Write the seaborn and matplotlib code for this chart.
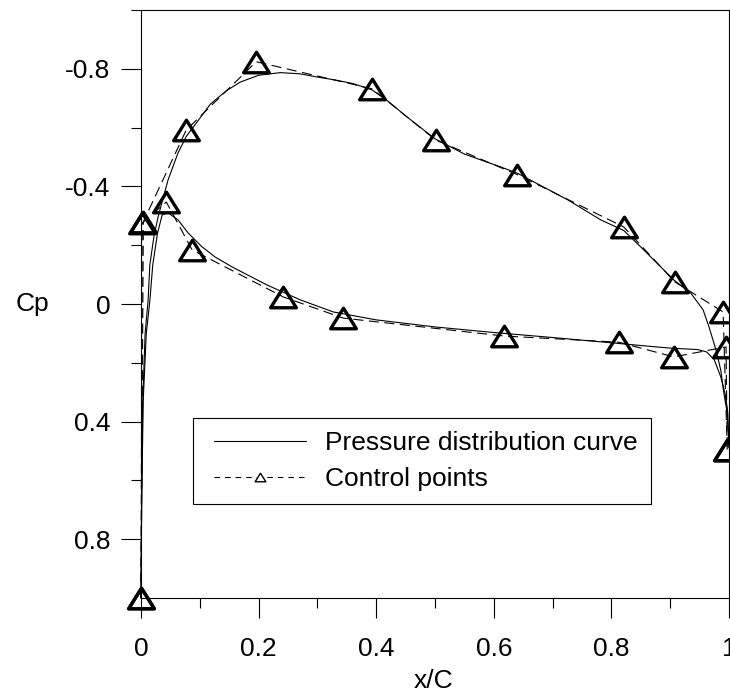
import matplotlib
matplotlib.use("Agg")
import matplotlib.pyplot as plt
import seaborn as sns
from matplotlib.path import Path
from matplotlib.lines import Line2D
from matplotlib.legend_handler import HandlerLine2D
from matplotlib.ticker import FixedLocator

# ---- data ----
upper_curve_x = [0.0, 0.001, 0.003, 0.007, 0.012, 0.015, 0.022, 0.029, 0.046, 0.063,
                 0.077, 0.092, 0.118, 0.145, 0.169, 0.20, 0.237, 0.27, 0.30, 0.33,
                 0.36, 0.393, 0.42, 0.45, 0.50, 0.55, 0.612, 0.64, 0.726, 0.782, 0.821,
                 0.85, 0.872, 0.906, 0.935, 0.956, 0.966, 0.978, 0.986, 0.991, 0.997, 1.0]
upper_curve_cp = [1.0, 0.667, 0.327, 0.10, -0.01, -0.133, -0.23, -0.296, -0.422, -0.514,
                  -0.57, -0.61, -0.68, -0.725, -0.755, -0.778, -0.787, -0.783, -0.772, -0.762,
                  -0.75, -0.728, -0.69, -0.64, -0.562, -0.51, -0.466, -0.445, -0.354, -0.286, -0.25,
                  -0.194, -0.15, -0.082, -0.037, 0.02, 0.078, 0.157, 0.225, 0.30, 0.371, 0.487]

lower_curve_x = [0.0, 0.0012, 0.0038, 0.009, 0.015, 0.020, 0.028, 0.036, 0.046, 0.063,
                 0.080, 0.104, 0.126, 0.155, 0.214, 0.271, 0.327, 0.40, 0.50, 0.60,
                 0.70, 0.80, 0.86, 0.90, 0.947, 0.962, 0.975, 0.986, 0.994, 0.998, 1.0]
lower_curve_cp = [1.0, 0.667, 0.327, 0.10, -0.01, -0.133, -0.24, -0.303, -0.310, -0.286,
                  -0.242, -0.194, -0.160, -0.126, -0.065, -0.014, 0.027, 0.054, 0.078, 0.097,
                  0.114, 0.132, 0.143, 0.150, 0.155, 0.163, 0.19, 0.248, 0.31, 0.37, 0.49]

upper_ctrl_x = [0.0, 0.004, 0.077, 0.196, 0.393, 0.501, 0.640, 0.821, 0.908, 0.990, 0.997]
upper_ctrl_cp = [1.0, -0.28, -0.592, -0.824, -0.732, -0.558, -0.44, -0.262, -0.075, 0.027, 0.495]

lower_ctrl_x = [0.0, 0.002, 0.043, 0.087, 0.242, 0.344, 0.618, 0.813, 0.906, 0.995, 0.997]
lower_ctrl_cp = [1.0, -0.275, -0.347, -0.184, -0.024, 0.048, 0.109, 0.13, 0.18, 0.146, 0.495]

x_ticks = [0.0, 0.2, 0.4, 0.6, 0.8, 1.0]
x_tick_labels = ["0", "0.2", "0.4", "0.6", "0.8", "1"]
x_minor_ticks = [0.1, 0.3, 0.5, 0.7, 0.9]
y_ticks = [-0.8, -0.4, 0.0, 0.4, 0.8]
y_tick_labels = ["-0.8", "-0.4", "0", "0.4", "0.8"]
y_minor_ticks = [-1.0, -0.6, -0.2, 0.2, 0.6]

legend_labels = ["Pressure distribution curve", "Control points"]

# ---- style ----
sns.set_style("ticks")
plt.rcParams['font.family'] = ['Liberation Sans', 'DejaVu Sans']
plt.rcParams['axes.unicode_minus'] = False
for k in ['text.color', 'axes.labelcolor', 'xtick.color', 'ytick.color', 'axes.edgecolor']:
    plt.rcParams[k] = 'black'

FS = 19

fig = plt.figure(figsize=(7.3, 6.92), dpi=100)
ax = fig.add_axes([141 / 730, 94 / 692, 588 / 730, 588 / 692])

tri = Path([(-1, -0.8), (1, -0.8), (0, 0.8), (-1, -0.8)],
           [Path.MOVETO, Path.LINETO, Path.LINETO, Path.CLOSEPOLY])

for xs, ys in [(upper_curve_x, upper_curve_cp), (lower_curve_x, lower_curve_cp)]:
    sns.lineplot(x=xs, y=ys, ax=ax, sort=False, estimator=None, legend=False,
                 color='black', linewidth=0.8, clip_on=False, zorder=2)

for xs, ys in [(upper_ctrl_x, upper_ctrl_cp), (lower_ctrl_x, lower_ctrl_cp)]:
    sns.lineplot(x=xs, y=ys, ax=ax, sort=False, estimator=None, legend=False,
                 color='black', linewidth=0.8, linestyle=(0, (9, 5)),
                 marker=tri, markersize=18.5, markerfacecolor='none',
                 markeredgecolor='black', markeredgewidth=2.4,
                 clip_on=False, zorder=3)

ax.set_xlim(0, 1)
ax.set_ylim(1.0, -1.0)

ax.xaxis.set_major_locator(FixedLocator(x_ticks))
ax.set_xticklabels(x_tick_labels)
ax.xaxis.set_minor_locator(FixedLocator(x_minor_ticks))
ax.yaxis.set_major_locator(FixedLocator(y_ticks))
ax.set_yticklabels(y_tick_labels)
ax.yaxis.set_minor_locator(FixedLocator(y_minor_ticks))

ax.tick_params(which='both', direction='out', color='black', width=0.8,
               bottom=True, left=True, top=False, right=False)
ax.tick_params(which='major', length=14.4)
ax.tick_params(which='minor', length=7)
ax.tick_params(axis='x', which='major', pad=13.5, labelsize=FS)
ax.tick_params(axis='y', which='major', pad=7.5, labelsize=FS)

for s in ax.spines.values():
    s.set_visible(True)
    s.set_linewidth(0.8)
    s.set_color('black')

ax.set_xlabel('x/C', fontsize=FS)
ax.xaxis.label.set_va('center')
ax.xaxis.set_label_coords(0.497, -0.141)
ax.set_ylabel('Cp', fontsize=FS, rotation=0)
ax.yaxis.label.set_ha('center')
ax.yaxis.label.set_va('center')
ax.yaxis.set_label_coords(-0.185, 0.5)

h1 = Line2D([], [], color='black', lw=0.8)
h2 = Line2D([], [], color='black', lw=0.8, ls=(0, (5, 4.5)), marker=tri, ms=7.7,
            mfc='white', mec='black', mew=1.0)
em = FS * 100 / 72
leg = ax.legend([h1, h2], legend_labels, loc='upper left',
                bbox_to_anchor=(52 / 588, 180 / 588), borderaxespad=0,
                fontsize=FS, frameon=True, fancybox=False, shadow=False,
                framealpha=1, edgecolor='black',
                handlelength=100 / em, handletextpad=19 / em,
                borderpad=0.5, labelspacing=0.44,
                handler_map={h1: HandlerLine2D(xpad=8 / em),
                             h2: HandlerLine2D(xpad=8 / em)})
leg.get_frame().set_linewidth(0.8)

fig.savefig('out.png', dpi=100)
